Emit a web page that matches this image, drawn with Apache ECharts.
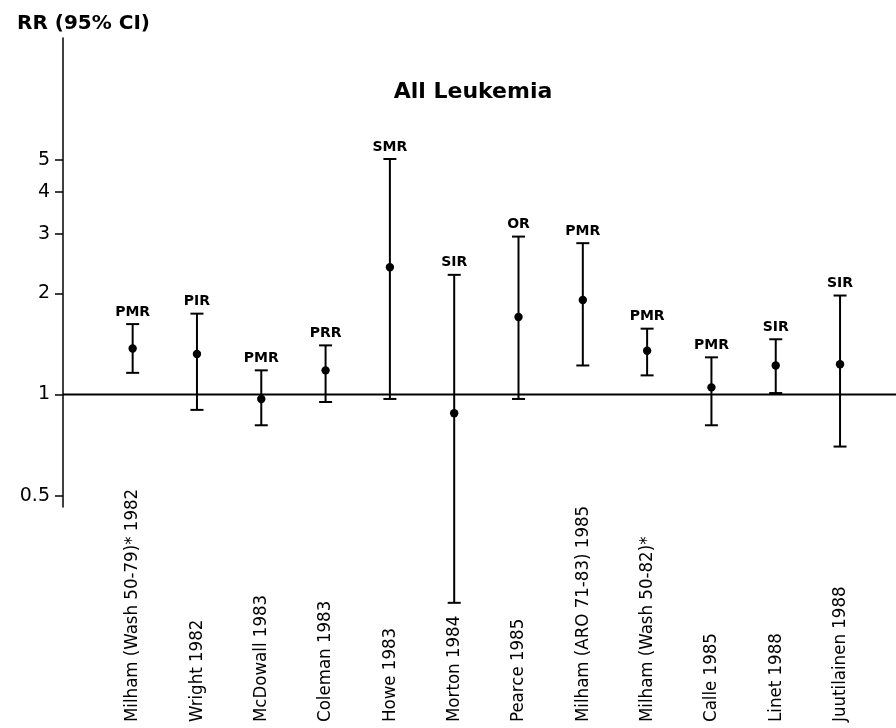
<!DOCTYPE html>
<html>
<head>
<meta charset="utf-8">
<script src="https://cdn.jsdelivr.net/npm/echarts@6/dist/echarts.min.js"></script>
<style>
  html, body { margin: 0; padding: 0; background: #ffffff; }
  #chart { width: 896px; height: 728px; }
</style>
</head>
<body>
<div id="chart"></div>
<script>
// ---- data ----
const categories = [
  'Milham (Wash 50-79)* 1982', 'Wright 1982', 'McDowall 1983', 'Coleman 1983',
  'Howe 1983', 'Morton 1984', 'Pearce 1985', 'Milham (ARO 71-83) 1985',
  'Milham (Wash 50-82)*', 'Calle 1985', 'Linet 1988', 'Juutilainen 1988'
];
const ratioTypes = ['PMR', 'PIR', 'PMR', 'PRR', 'SMR', 'SIR', 'OR', 'PMR', 'PMR', 'PMR', 'SIR', 'SIR'];
const estimates  = [1.37, 1.32, 0.97, 1.18, 2.39, 0.88, 1.70, 1.91, 1.35, 1.05, 1.22, 1.23];
const lowerCI    = [1.16, 0.90, 0.81, 0.95, 0.97, 0.24, 0.97, 1.22, 1.14, 0.81, 1.01, 0.70];
const upperCI    = [1.62, 1.74, 1.18, 1.40, 5.02, 2.27, 2.95, 2.82, 1.57, 1.29, 1.46, 1.97];
const yTicks     = [0.5, 1, 2, 3, 4, 5];
const referenceValue = 1;
const chartTitle = 'All Leukemia';
const yAxisTitle = 'RR (95% CI)';

// ---- chart ----
const chart = echarts.init(document.getElementById('chart'), null, { renderer: 'canvas' });
const yMin = 0.4627, yMax = 11.5;
const ink = '#000000';

const rows = categories.map((c, i) => [i, estimates[i], lowerCI[i], upperCI[i], ratioTypes[i]]);

const option = {
  backgroundColor: '#ffffff',
  animation: false,
  title: [
    {
      text: chartTitle, left: 468, top: 76, textAlign: 'center',
      textStyle: { fontFamily: 'DejaVu Sans', fontWeight: 'bold', fontSize: 22, color: ink }
    },
    {
      text: yAxisTitle, left: 12, top: 9,
      textStyle: { fontFamily: 'DejaVu Sans', fontWeight: 'bold', fontSize: 20, color: ink }
    }
  ],
  grid: [
    { left: 63, right: 0, top: 38, bottom: 221 },
    { left: 100.5, right: 23.8, top: 38, bottom: 221 }
  ],
  xAxis: [
    { gridIndex: 0, type: 'value', min: 0, max: 1, show: false },
    {
      gridIndex: 1, type: 'category', data: categories, boundaryGap: true,
      axisLine: { show: false }, axisTick: { show: false }, splitLine: { show: false },
      axisLabel: {
        interval: 0, rotate: 90, align: 'left', margin: 215,
        fontFamily: 'Liberation Sans Narrow, Arial Narrow, DejaVu Sans Condensed, sans-serif',
        fontSize: 18.5, color: ink
      }
    }
  ],
  yAxis: [
    {
      gridIndex: 0, type: 'log', min: yMin, max: yMax,
      axisLine: { show: true, lineStyle: { color: ink, width: 1.5 } },
      axisTick: { show: true, length: 8, customValues: yTicks, lineStyle: { color: ink, width: 1.5 } },
      axisLabel: {
        customValues: yTicks, margin: 13,
        formatter: v => String(v),
        fontFamily: 'DejaVu Sans', fontSize: 19, color: ink
      },
      splitLine: { show: false }, minorTick: { show: false }
    },
    { gridIndex: 1, type: 'log', min: yMin, max: yMax, show: false }
  ],
  series: [
    {
      type: 'line', xAxisIndex: 0, yAxisIndex: 0,
      data: [[0, referenceValue], [1, referenceValue]],
      symbol: 'none', silent: true,
      lineStyle: { color: ink, width: 1.8 }
    },
    {
      type: 'custom', xAxisIndex: 1, yAxisIndex: 1, clip: false,
      data: rows,
      renderItem: function (params, api) {
        const x = api.value(0);
        const top = api.coord([x, api.value(3)]);
        const mid = api.coord([x, api.value(1)]);
        const bot = api.coord([x, api.value(2)]);
        const cap = 6.5;
        const st = { stroke: ink, lineWidth: 2 };
        return {
          type: 'group',
          children: [
            { type: 'line', shape: { x1: top[0], y1: top[1], x2: bot[0], y2: bot[1] }, style: st },
            { type: 'line', shape: { x1: top[0] - cap, y1: top[1], x2: top[0] + cap, y2: top[1] }, style: st },
            { type: 'line', shape: { x1: bot[0] - cap, y1: bot[1], x2: bot[0] + cap, y2: bot[1] }, style: st },
            { type: 'circle', shape: { cx: mid[0], cy: mid[1], r: 4.2 }, style: { fill: ink } },
            {
              type: 'text', x: top[0], y: top[1] - 5,
              style: {
                text: api.value(4), align: 'center', verticalAlign: 'bottom',
                fontFamily: 'DejaVu Sans', fontWeight: 'bold', fontSize: 14, fill: ink
              }
            }
          ]
        };
      }
    }
  ]
};
chart.setOption(option);
</script>
</body>
</html>
